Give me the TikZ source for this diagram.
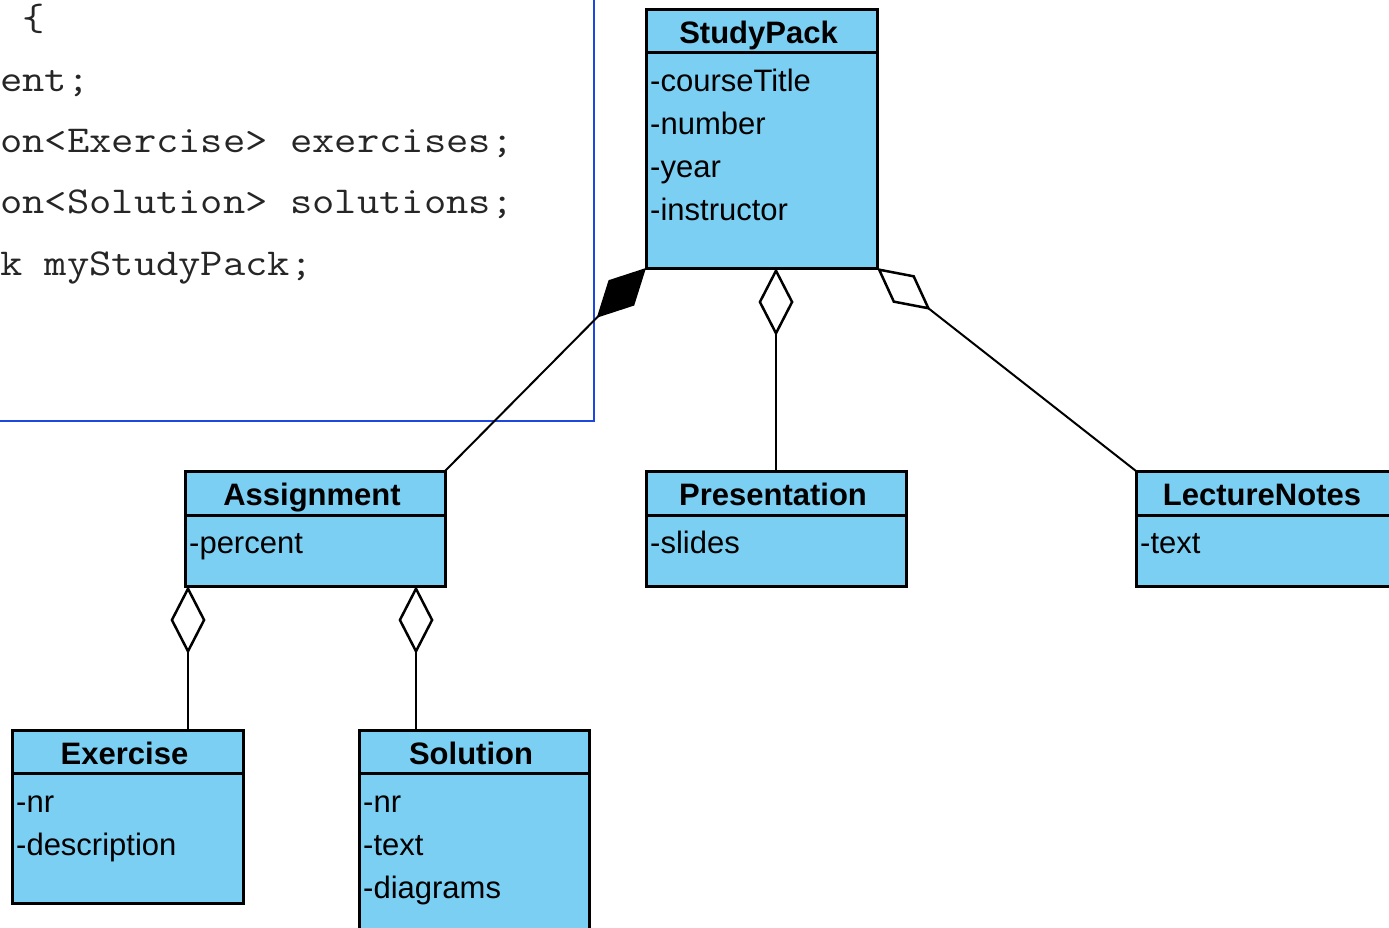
\documentclass[tikz,border=0pt]{standalone}
\usepackage{fontspec}
\setmainfont{Liberation Sans}
\newfontfamily\codefont[FakeStretch=1.14]{Latin Modern Mono}
\usetikzlibrary{arrows.meta,calc}
\definecolor{classfill}{RGB}{122,207,243}
\definecolor{frameblue}{RGB}{30,70,225}
\tikzset{
  classbox/.style={draw=black, line width=3pt, fill=classfill, anchor=north west,
    inner sep=0pt, outer sep=0pt},
  divider/.style={line width=3pt},
  classtitle/.style={anchor=base, inner sep=0pt, font=\fontsize{31}{36}\selectfont\bfseries},
  attr/.style={anchor=base west, inner sep=0pt, font=\fontsize{31}{36}\selectfont},
  codeline/.style={anchor=base west, inner sep=0pt, font=\fontsize{38}{44}\codefont, text=black!85},
  link/.style={line width=2pt, draw=black},
  aggr/.style={link, -{Diamond[open, length=68pt, width=35pt, line width=2.5pt]}},
  comp/.style={link, -{Diamond[length=70pt, width=36pt]}},
}
\begin{document}
\begin{tikzpicture}[x=1pt, y=-1pt]
  \clip (0,0) rectangle (1389,928);
  \fill[white] (0,0) rectangle (1389,928);

  % source code panel
  \node[draw=frameblue, line width=2pt, minimum width=700pt, minimum height=500pt,
        anchor=south east, outer sep=0pt, inner sep=0pt] (codepanel) at (594,421) {};
  \node[codeline] (c1) at (0,31)  {\ \{};
  \node[codeline] (c2) at (0,92)  {ent;};
  \node[codeline] (c3) at (0,153) {on<Exercise> exercises;};
  \node[codeline] (c4) at (0,214) {on<Solution> solutions;};
  \node[codeline] (c5) at (0,275) {k myStudyPack;};

  % StudyPack
  \node[classbox, minimum width=231pt, minimum height=258pt] (sp) at (646,10) {};
  \draw[divider] ($(sp.north west)+(0,43)$) -- ($(sp.north east)+(0,43)$);
  \node[classtitle] (sp-t) at ($(sp.north)+(-3,34)$) {StudyPack};
  \node[attr] (sp-a1) at ($(sp.north west)+(4,82)$)  {-courseTitle};
  \node[attr] (sp-a2) at ($(sp.north west)+(4,125)$) {-number};
  \node[attr] (sp-a3) at ($(sp.north west)+(4,168)$) {-year};
  \node[attr] (sp-a4) at ($(sp.north west)+(4,211)$) {-instructor};

  % Assignment
  \node[classbox, minimum width=260pt, minimum height=115pt] (asg) at (185,471) {};
  \draw[divider] ($(asg.north west)+(0,44)$) -- ($(asg.north east)+(0,44)$);
  \node[classtitle] (asg-t) at ($(asg.north)+(-3,34)$) {Assignment};
  \node[attr] (asg-a1) at ($(asg.north west)+(4,82)$) {-percent};

  % Presentation
  \node[classbox, minimum width=260pt, minimum height=115pt] (pres) at (646,471) {};
  \draw[divider] ($(pres.north west)+(0,44)$) -- ($(pres.north east)+(0,44)$);
  \node[classtitle] (pres-t) at ($(pres.north)+(-3,34)$) {Presentation};
  \node[attr] (pres-a1) at ($(pres.north west)+(4,82)$) {-slides};

  % LectureNotes
  \node[classbox, minimum width=258pt, minimum height=115pt] (ln) at (1136,471) {};
  \draw[divider] ($(ln.north west)+(0,44)$) -- ($(ln.north east)+(0,44)$);
  \node[classtitle] (ln-t) at ($(ln.north)+(-3,34)$) {LectureNotes};
  \node[attr] (ln-a1) at ($(ln.north west)+(4,82)$) {-text};

  % Exercise
  \node[classbox, minimum width=231pt, minimum height=173pt] (ex) at (12,730) {};
  \draw[divider] ($(ex.north west)+(0,43)$) -- ($(ex.north east)+(0,43)$);
  \node[classtitle] (ex-t) at ($(ex.north)+(-3,34)$) {Exercise};
  \node[attr] (ex-a1) at ($(ex.north west)+(4,82)$)  {-nr};
  \node[attr] (ex-a2) at ($(ex.north west)+(4,125)$) {-description};

  % Solution
  \node[classbox, minimum width=230pt, minimum height=216pt] (sol) at (359,730) {};
  \draw[divider] ($(sol.north west)+(0,43)$) -- ($(sol.north east)+(0,43)$);
  \node[classtitle] (sol-t) at ($(sol.north)+(-3,34)$) {Solution};
  \node[attr] (sol-a1) at ($(sol.north west)+(4,82)$)  {-nr};
  \node[attr] (sol-a2) at ($(sol.north west)+(4,125)$) {-text};
  \node[attr] (sol-a3) at ($(sol.north west)+(4,168)$) {-diagrams};

  % associations
  \coordinate (exjoin)  at ($(asg.south west)+(3,0)$);
  \coordinate (soljoin) at ($(asg.south east)+(-29,0)$);
  \draw[comp] (asg.north east) -- (sp.south west);
  \draw[aggr] (pres.north) -- (pres.north |- sp.south);
  \draw[aggr] (ln.north west) -- (sp.south east);
  \draw[aggr] (exjoin |- ex.north) -- (exjoin);
  \draw[aggr] (soljoin |- sol.north) -- (soljoin);
\end{tikzpicture}
\end{document}
